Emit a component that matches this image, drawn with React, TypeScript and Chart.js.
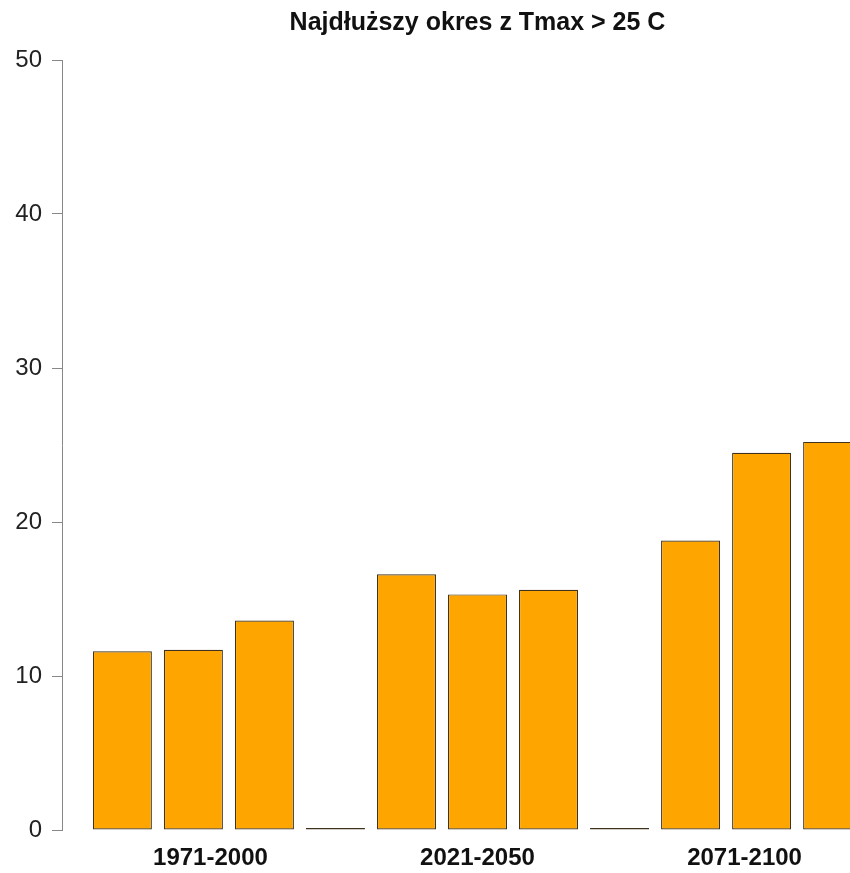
import { useEffect, useRef } from "react"
import { Chart, registerables } from "chart.js"

Chart.register(...registerables)

// Periods written under the groups of bars
const periods = ["1971-2000", "2021-2050", "2071-2100"]

// Longest spell with Tmax > 25 C, three runs per period.
// The zeros are the empty spacer bars between the groups.
const spellDays = [11.6, 11.7, 13.6, 0, 16.6, 15.3, 15.6, 0, 18.8, 24.5, 25.2]

// Where each period label sits, in bar-index units
const periodLabelAt = [1.24, 5, 8.76]

const yMin = 0
const yMax = 50
const yStep = 10

export default function App() {
  const chartRef = useRef<HTMLCanvasElement>(null)
  const chartInstance = useRef<Chart | null>(null)

  useEffect(() => {
    if (!chartRef.current) return

    if (chartInstance.current) {
      chartInstance.current.destroy()
    }

    const ctx = chartRef.current.getContext("2d")
    if (!ctx) return

    Chart.defaults.font.family = "'Liberation Sans', Arial, sans-serif"
    Chart.defaults.color = "#111"

    chartInstance.current = new Chart(ctx, {
      type: "bar",
      data: {
        datasets: [
          {
            label: "Najdłuższy okres",
            data: spellDays.map((v, i) => ({ x: i, y: v })),
            backgroundColor: "#FFA500",
            borderColor: "#3f3320",
            borderWidth: 1.2,
            borderSkipped: false,
            minBarLength: 2,
            categoryPercentage: 1,
            barPercentage: 0.831,
          },
        ],
      },
      options: {
        animation: false,
        responsive: true,
        maintainAspectRatio: false,
        layout: { padding: 0 },
        scales: {
          x: {
            type: "linear",
            offset: false,
            min: -0.85,
            max: 10.85,
            grid: { display: false, drawTicks: false },
            border: { display: false },
            afterBuildTicks: (scale) => {
              scale.ticks = periodLabelAt.map((v) => ({ value: v }))
            },
            afterFit: (scale) => {
              scale.height = 43
            },
            ticks: {
              padding: 14,
              maxRotation: 0,
              autoSkip: false,
              font: { size: 24, weight: "bold" },
              color: "#111",
              callback: (_value, index) => periods[index],
            },
          },
          y: {
            min: yMin,
            max: yMax,
            afterFit: (scale) => {
              scale.width = 62
            },
            ticks: {
              stepSize: yStep,
              padding: 10,
              font: { size: 24 },
              color: "#222",
            },
            grid: {
              drawOnChartArea: false,
              drawTicks: true,
              tickLength: 10,
              color: "#888",
            },
            border: { display: true, color: "#888", width: 1 },
          },
        },
        plugins: {
          legend: { display: false },
          tooltip: { enabled: false },
          title: {
            display: true,
            text: "Najdłuższy okres z Tmax > 25 C",
            fullSize: false,
            color: "#111",
            font: { size: 25, weight: "bold" },
            padding: { top: 8, bottom: 22 },
          },
        },
      },
    })

    return () => {
      if (chartInstance.current) {
        chartInstance.current.destroy()
        chartInstance.current = null
      }
    }
  }, [])

  return (
    <div
      style={{
        position: "absolute",
        left: 0,
        top: 0,
        width: 850,
        height: 873,
        overflow: "hidden",
        background: "#fff",
      }}
    >
      <div style={{ position: "relative", width: 893, height: 873 }}>
        <canvas ref={chartRef} />
      </div>
    </div>
  )
}
